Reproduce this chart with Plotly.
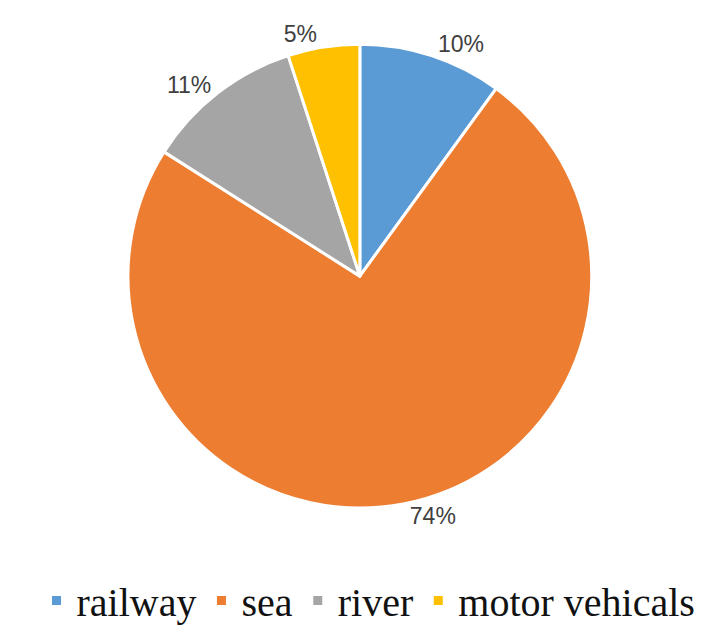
import plotly.graph_objects as go

modes = ['railway', 'sea', 'river', 'motor vehicals']
shares = [10, 74, 11, 5]
colors = ['#5B9BD5', '#ED7D31', '#A5A5A5', '#FFC000']

fig = go.Figure(go.Pie(
    labels=modes,
    values=shares,
    sort=False,
    direction='clockwise',
    rotation=0,
    marker=dict(colors=colors, line=dict(color='white', width=3)),
    textinfo='percent',
    texttemplate='%{percent:.0%}',
    textposition='outside',
    textfont=dict(family='Liberation Sans', size=23, color='#404040'),
    domain=dict(x=[0.166, 0.81], y=[0.2, 0.942]),
))

fig.update_layout(
    width=721,
    height=625,
    margin=dict(l=0, r=0, t=0, b=0),
    paper_bgcolor='white',
    plot_bgcolor='white',
    legend=dict(
        orientation='h',
        x=0.5, xanchor='center',
        y=0.0, yanchor='bottom',
        font=dict(family='"Times New Roman", "Liberation Serif", "DejaVu Serif", serif',
                  size=40, color='#111111'),
        itemwidth=30,
    ),
)

fig.write_html("out.html")
